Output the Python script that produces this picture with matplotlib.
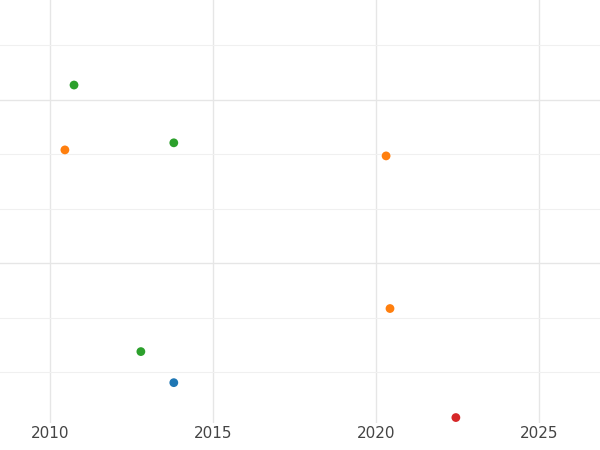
import matplotlib
matplotlib.use('Agg')
import matplotlib.pyplot as plt
from matplotlib.ticker import MultipleLocator

# point data
years = [2010.74, 2010.46, 2013.80, 2020.31, 2020.43, 2012.79, 2013.80, 2022.45]
values = [3.27, 2.08, 2.21, 1.97, -0.83, -1.62, -2.19, -2.83]
colors = ['#2ca02c', '#ff7f0e', '#2ca02c', '#ff7f0e', '#ff7f0e', '#2ca02c', '#1f77b4', '#d62728']

fig = plt.figure(figsize=(6, 4.5), dpi=100)
ax = fig.add_axes([0, 0.06, 1, 0.94])
ax.scatter(years, values, c=colors, s=40, zorder=3, linewidths=0)

ax.set_xlim(2008.47, 2026.87)
ax.set_ylim(-2.93, 4.83)
ax.xaxis.set_major_locator(MultipleLocator(5))
ax.yaxis.set_major_locator(MultipleLocator(3))
ax.yaxis.set_minor_locator(MultipleLocator(1))
ax.grid(True, which='major', color='#e6e6e6', linewidth=1.0)
ax.grid(True, which='minor', axis='y', color='#f0f0f0', linewidth=0.8)
ax.set_yticklabels([])
ax.tick_params(axis='both', which='both', length=0)
ax.tick_params(axis='x', labelsize=11, labelcolor='#444444', pad=2)
for s in ax.spines.values():
    s.set_visible(False)

fig.savefig('out.png', dpi=100)
